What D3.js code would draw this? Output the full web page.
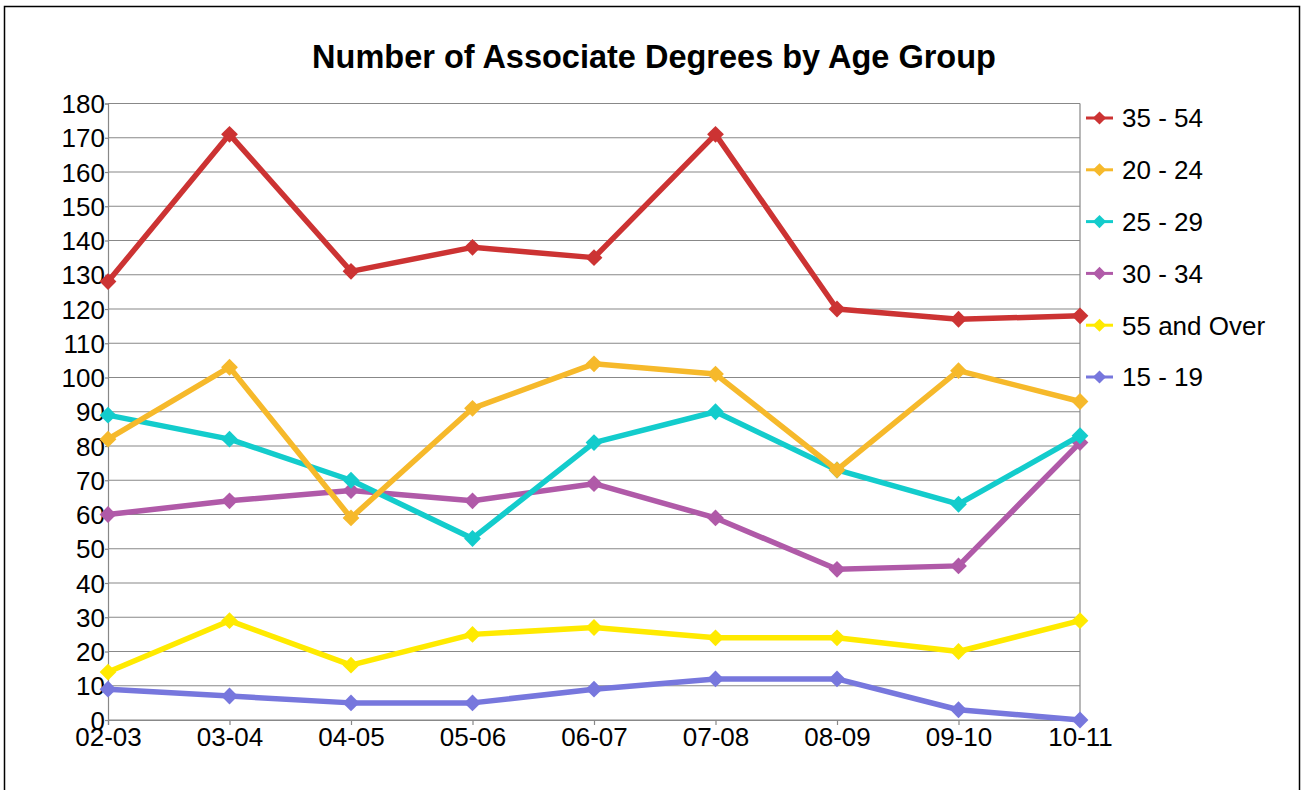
<!DOCTYPE html>
<html>
<head>
<meta charset="utf-8">
<script src="https://cdn.jsdelivr.net/npm/d3@7"></script>
<style>
  body { margin: 0; background: #fff; }
  svg { display: block; font-family: "Liberation Sans", Arial, sans-serif; }
</style>
</head>
<body>
<div id="chart"></div>
<script>
const years = ["02-03", "03-04", "04-05", "05-06", "06-07", "07-08", "08-09", "09-10", "10-11"];
const yTicks = d3.range(0, 181, 10);

const age3554 = [128, 171, 131, 138, 135, 171, 120, 117, 118];
const age2024 = [82, 103, 59, 91, 104, 101, 73, 102, 93];
const age2529 = [89, 82, 70, 53, 81, 90, 73, 63, 83];
const age3034 = [60, 64, 67, 64, 69, 59, 44, 45, 81];
const age55up = [14, 29, 16, 25, 27, 24, 24, 20, 29];
const age1519 = [9, 7, 5, 5, 9, 12, 12, 3, 0];

const seriesNames = ["35 - 54", "20 - 24", "25 - 29", "30 - 34", "55 and Over", "15 - 19"];
const seriesValues = [age3554, age2024, age2529, age3034, age55up, age1519];
const seriesColors = ["#cc3333", "#f6b92b", "#13cccc", "#b05aa8", "#ffea00", "#7777dd"];

const width = 1302, height = 790;
const plot = { left: 108, right: 1080, top: 103.5, bottom: 720 };

const svg = d3.select("#chart").append("svg")
	.attr("width", width)
	.attr("height", height);

// outer frame
svg.append("rect")
	.attr("x", 4.5).attr("y", 6.5)
	.attr("width", 1295).attr("height", 800)
	.attr("fill", "none")
	.attr("stroke", "black")
	.attr("stroke-width", 1.5);

svg.append("text")
	.attr("x", 654)
	.attr("y", 68)
	.attr("text-anchor", "middle")
	.attr("font-size", "32.5px")
	.attr("font-weight", "bold")
	.text("Number of Associate Degrees by Age Group");

const x = d3.scalePoint().domain(years).range([plot.left, plot.right]).padding(0);
const y = d3.scaleLinear().domain([0, 180]).range([plot.bottom, plot.top]);

// gridlines
svg.append("g")
	.selectAll("line")
	.data(yTicks)
	.enter()
	.append("line")
	.attr("x1", plot.left)
	.attr("x2", plot.right)
	.attr("y1", d => y(d))
	.attr("y2", d => y(d))
	.attr("stroke", "#888")
	.attr("stroke-width", 1.2);

// right border of plot
svg.append("line")
	.attr("x1", plot.right).attr("x2", plot.right)
	.attr("y1", plot.top).attr("y2", plot.bottom)
	.attr("stroke", "#888")
	.attr("stroke-width", 1.2);

const yAxis = svg.append("g")
	.attr("transform", `translate(${plot.left},0)`)
	.call(d3.axisLeft(y).tickValues(yTicks).tickSize(3).tickPadding(0));

const xAxis = svg.append("g")
	.attr("transform", `translate(0,${plot.bottom})`)
	.call(d3.axisBottom(x).tickSize(5).tickPadding(3));

[yAxis, xAxis].forEach(ax => {
	ax.select(".domain").attr("stroke", "#888").attr("stroke-width", 1.2);
	ax.selectAll(".tick line").attr("stroke", "#888").attr("stroke-width", 1.2);
	ax.selectAll("text")
		.attr("fill", "black")
		.attr("font-size", "26px")
		.attr("font-family", "Liberation Sans, Arial, sans-serif");
});
yAxis.selectAll("text").attr("dy", "0.35em");
xAxis.selectAll("text").attr("dy", "0.71em");

const line = d3.line()
	.x((d, i) => x(years[i]))
	.y(d => y(d));

const diamond = d3.symbol().type(d3.symbolDiamond2).size(180);

// draw from bottom of legend up so the top series sits on top
const order = d3.range(seriesNames.length).reverse();

order.forEach(k => {
	const g = svg.append("g");
	g.append("path")
		.datum(seriesValues[k])
		.attr("d", line)
		.attr("fill", "none")
		.attr("stroke", seriesColors[k])
		.attr("stroke-width", 5.5)
		.attr("stroke-linejoin", "round");
	g.selectAll("path.pt")
		.data(seriesValues[k])
		.enter()
		.append("path")
		.attr("class", "pt")
		.attr("d", diamond)
		.attr("transform", (d, i) => `translate(${x(years[i])},${y(d)})`)
		.attr("fill", seriesColors[k]);
});

// legend
const legend = svg.append("g").attr("transform", "translate(1086,118)");
const items = legend.selectAll("g")
	.data(seriesNames)
	.enter()
	.append("g")
	.attr("transform", (d, i) => `translate(0,${i * 51.8})`);

items.append("line")
	.attr("x1", 0).attr("x2", 27)
	.attr("stroke", (d, i) => seriesColors[i])
	.attr("stroke-width", 3);
items.append("path")
	.attr("d", d3.symbol().type(d3.symbolDiamond2).size(110))
	.attr("transform", "translate(13.5,0)")
	.attr("fill", (d, i) => seriesColors[i]);
items.append("text")
	.attr("x", 36)
	.attr("dy", "0.36em")
	.attr("font-size", "26px")
	.text(d => d);
</script>
</body>
</html>
